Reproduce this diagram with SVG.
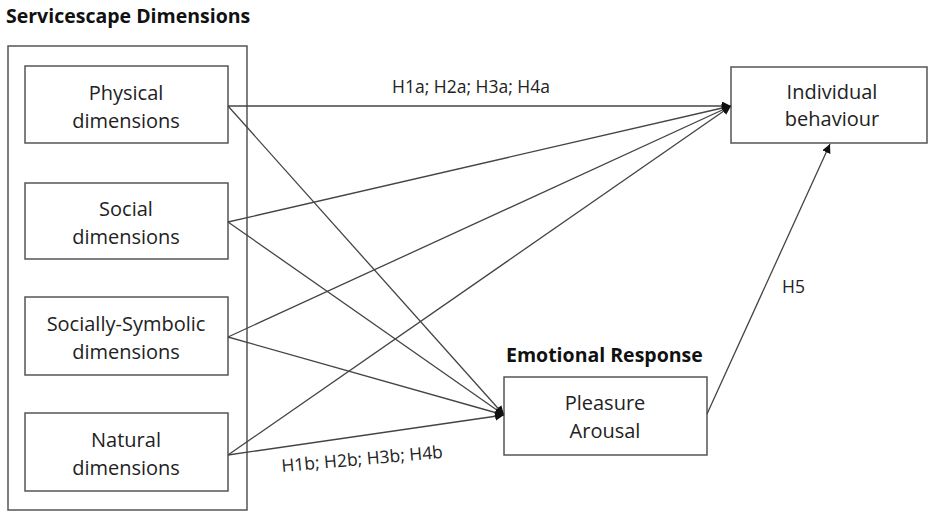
<svg xmlns="http://www.w3.org/2000/svg" width="930" height="513" viewBox="0 0 930 513">
<style>
.box{fill:#fff;stroke:#555;stroke-width:1.5}
.t{font-family:"Open Sans","Liberation Sans",sans-serif;font-size:20px;fill:#222;text-anchor:middle}
.h{font-family:"Open Sans","Liberation Sans",sans-serif;font-size:19.5px;font-weight:bold;fill:#111}
.l{font-family:"Open Sans","Liberation Sans",sans-serif;font-size:17.5px;fill:#222}
.c{stroke:#444;stroke-width:1.3;fill:none;marker-end:url(#a)}
</style>
<defs>
<marker id="a" viewBox="0 0 10 10" refX="10" refY="5" markerWidth="9" markerHeight="9" markerUnits="userSpaceOnUse" orient="auto">
<path d="M0,0 L10,5 L0,10 z" fill="#111"/>
</marker>
</defs>
<text class="h" x="6" y="23">Servicescape Dimensions</text>
<rect class="box" x="8" y="46" width="239" height="464" fill="none"/>
<g id="physical"><rect class="box" x="25" y="66" width="203" height="77"/><text class="t" x="126" y="100">Physical</text><text class="t" x="126" y="128">dimensions</text></g>
<g id="social"><rect class="box" x="25" y="183" width="203" height="76"/><text class="t" x="126" y="216">Social</text><text class="t" x="126" y="244">dimensions</text></g>
<g id="symbolic"><rect class="box" x="25" y="297" width="203" height="78"/><text class="t" x="126" y="331">Socially-Symbolic</text><text class="t" x="126" y="359">dimensions</text></g>
<g id="natural"><rect class="box" x="25" y="413" width="203" height="78"/><text class="t" x="126" y="447">Natural</text><text class="t" x="126" y="475">dimensions</text></g>
<g id="behaviour"><rect class="box" x="731" y="67" width="196" height="76"/><text class="t" x="832" y="99">Individual</text><text class="t" x="832" y="126">behaviour</text></g>
<text class="h" x="506" y="362">Emotional Response</text>
<g id="emotion"><rect class="box" x="504" y="377" width="203" height="78"/><text class="t" x="605" y="410">Pleasure</text><text class="t" x="605" y="438">Arousal</text></g>
<g id="connectors">
<line class="c" x1="228" y1="106" x2="731" y2="106"/>
<line class="c" x1="228" y1="222" x2="731" y2="106"/>
<line class="c" x1="228" y1="337" x2="731" y2="106"/>
<line class="c" x1="228" y1="455" x2="731" y2="106"/>
<line class="c" x1="228" y1="106" x2="504" y2="415"/>
<line class="c" x1="228" y1="222" x2="504" y2="415"/>
<line class="c" x1="228" y1="337" x2="504" y2="415"/>
<line class="c" x1="228" y1="455" x2="504" y2="415"/>
<line class="c" x1="707" y1="414" x2="830" y2="144"/>
</g>
<text class="l" x="392" y="93">H1a; H2a; H3a; H4a</text>
<text class="l" x="282" y="472" transform="rotate(-5 282 472)">H1b; H2b; H3b; H4b</text>
<text class="l" x="782" y="293">H5</text>
</svg>
